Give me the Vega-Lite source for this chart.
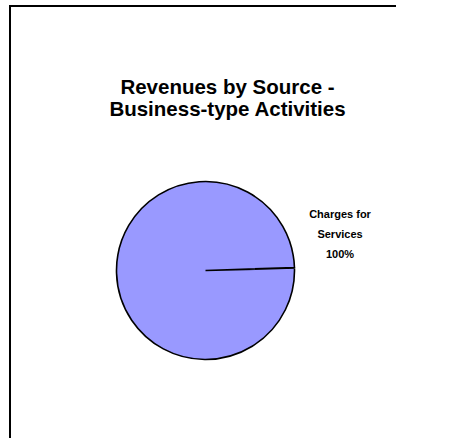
{
  "$schema": "https://vega.github.io/schema/vega-lite/v6.json",
  "autosize": {"type": "none"},
  "width": 391,
  "height": 529,
  "padding": {"left": 10, "top": 6, "right": 0, "bottom": 0},
  "background": "white",
  "view": {"stroke": "black", "strokeWidth": 2, "strokeDash": [386, 925, 600]},
  "config": {
    "font": "Liberation Sans"
  },
  "title": {
    "text": ["Revenues by Source -", "Business-type Activities"],
    "font": "Liberation Sans",
    "fontSize": 20.5,
    "fontWeight": "bold",
    "color": "black",
    "lineHeight": 22,
    "anchor": "middle",
    "baseline": "top",
    "offset": 0,
    "dx": 22,
    "dy": 114
  },
  "data": {
    "values": [
      {"category": "Charges for Services", "value": 100, "label": "Charges for\nServices\n100%"}
    ]
  },
  "layer": [
    {
      "mark": {"type": "arc", "radius": 89, "fill": "#9999FF", "stroke": "black", "strokeWidth": 1.6},
      "encoding": {
        "theta": {"field": "value", "type": "quantitative", "stack": true,
                  "scale": {"domain": [0, 100], "range": [1.543, 7.82]}}
      }
    },
    {
      "mark": {"type": "text", "theta": 1.18, "radius": 145.5, "font": "Liberation Sans", "fontSize": 11, "fontWeight": "bold", "lineHeight": 20, "lineBreak": "\n", "align": "center", "baseline": "middle", "color": "black"},
      "encoding": {
        "text": {"field": "label", "type": "nominal"}
      }
    }
  ]
}
